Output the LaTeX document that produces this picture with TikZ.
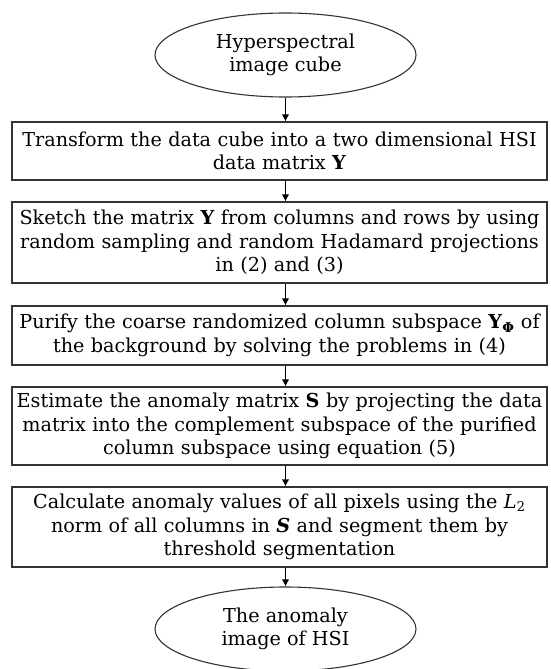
\documentclass[tikz,border=0pt]{standalone}
\usepackage{fontspec}
\setmainfont{DejaVu Serif}
\usetikzlibrary{shapes.geometric,arrows.meta}
\tikzset{
  stepbox/.style={draw=black!80, line width=1.1pt, rectangle, minimum width=535pt, inner sep=0pt, text width=533pt, align=center, font=\fontsize{19.2}{23.5}\selectfont},
  endell/.style={draw=black!80, line width=1.1pt, ellipse, minimum width=261pt, minimum height=84pt, inner sep=0pt, align=center, font=\fontsize{19.2}{23.5}\selectfont},
  flow/.style={line width=1.8pt, -{Latex[length=7pt,width=7.5pt]}}
}
\begin{document}
\begin{tikzpicture}[x=1pt,y=-1pt]
\useasboundingbox (0,0) rectangle (550,669);
\clip (0,0) rectangle (550,669);
\node[endell] (e1) at (285.5,55) {Hyperspectral\\image cube};
\node[stepbox, minimum height=58pt] (b1) at (279.5,151) {Transform the data cube into a two dimensional HSI\\data matrix \textbf{Y}};
\node[stepbox, minimum height=81pt] (b2) at (279.5,242.5) {Sketch the matrix \textbf{Y} from columns and rows by using\\random sampling and random Hadamard projections\\in (2) and (3)};
\node[stepbox, minimum height=59pt] (b3) at (279.5,335.5) {Purify the coarse randomized column subspace \textbf{Y}\textsubscript{\textbf{Φ}} of\\the background by solving the problems in (4)};
\node[stepbox, minimum height=78pt] (b4) at (279.5,426) {Estimate the anomaly matrix \textbf{S} by projecting the data\\matrix into the complement subspace of the purified\\column subspace using equation (5)};
\node[stepbox, minimum height=80pt] (b5) at (279.5,527) {Calculate anomaly values of all pixels using the \textit{L}\textsubscript{2}\\norm of all columns in \textbf{\textit{S}} and segment them by\\threshold segmentation};
\node[endell] (e2) at (285.5,629) {The anomaly\\image of HSI};
\draw[flow] (e1.south) -- (e1.south |- b1.north);
\draw[flow] (b1.south -| e1.south) -- (e1.south |- b2.north);
\draw[flow] (b2.south -| e1.south) -- (e1.south |- b3.north);
\draw[flow] (b3.south -| e1.south) -- (e1.south |- b4.north);
\draw[flow] (b4.south -| e1.south) -- (e1.south |- b5.north);
\draw[flow] (b5.south -| e2.north) -- (e2.north);
\end{tikzpicture}
\end{document}
